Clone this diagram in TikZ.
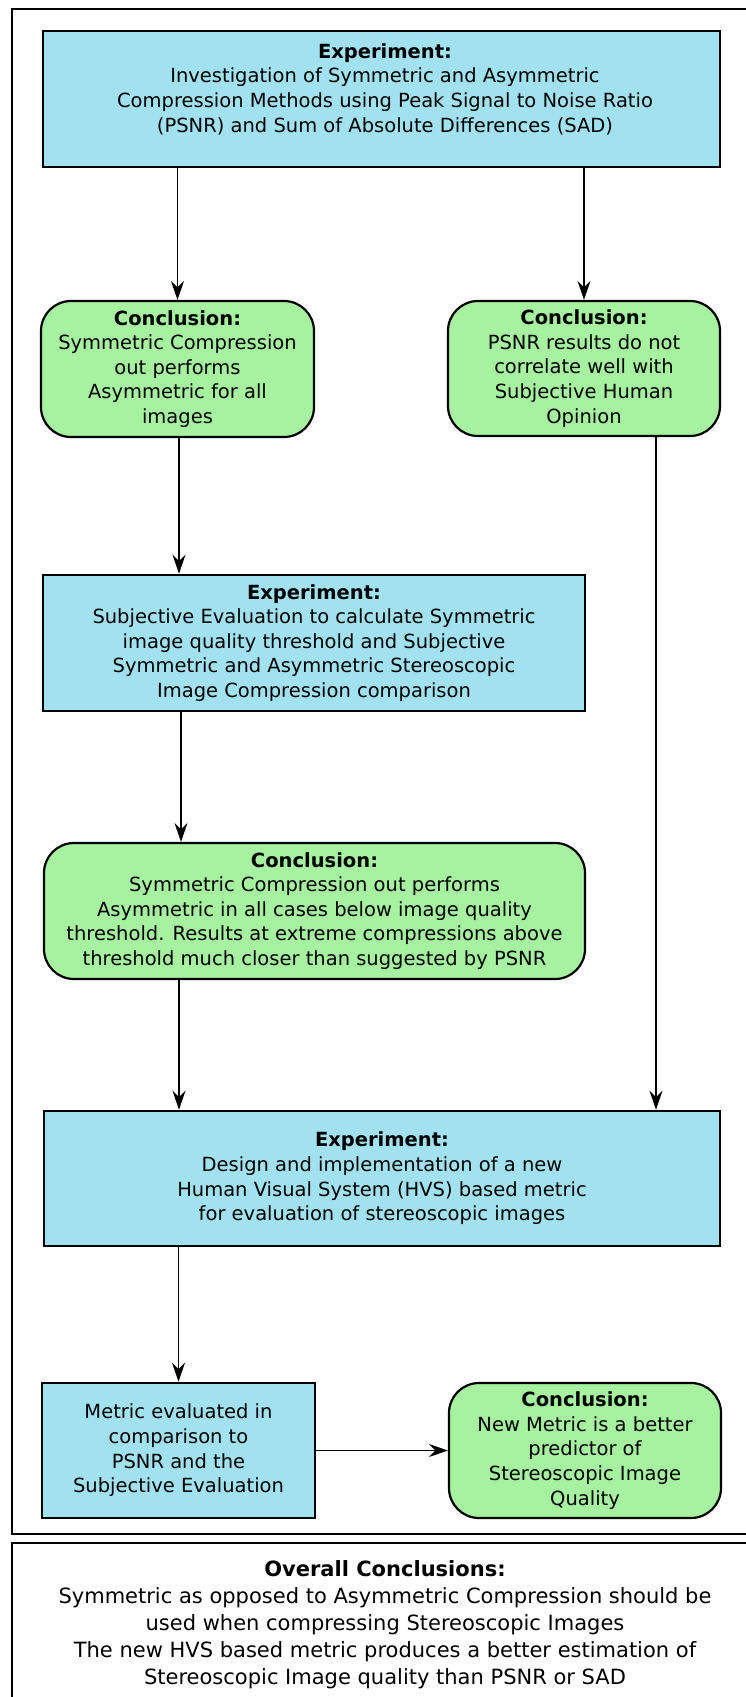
\documentclass[tikz,border=0pt]{standalone}
\usepackage{fontspec}
\setmainfont{DejaVu Sans}
\usetikzlibrary{arrows.meta}
\definecolor{boxblue}{RGB}{162,226,240}
\definecolor{boxgreen}{RGB}{166,242,160}
\tikzset{
  bluebox/.style={draw=black, fill=boxblue, line width=2.6pt, rectangle, inner sep=0pt, align=center,
    font=\fontsize{19.5}{24.6}\selectfont},
  greenbox/.style={draw=black, fill=boxgreen, line width=2.2pt, rectangle, rounded corners=30pt, inner sep=0pt, align=center,
    font=\fontsize{19.5}{24.6}\selectfont},
  frame/.style={draw=black, line width=1.8pt},
  txt/.style={inner sep=0pt, align=center, font=\fontsize{19.5}{24.6}\selectfont},
  bigtxt/.style={inner sep=0pt, align=center, font=\fontsize{21}{27}\selectfont},
  arr/.style={draw=black, line width=1.2pt, -{Stealth[length=19pt,width=13pt,inset=6.5pt]}}
}
\begin{document}
\begin{tikzpicture}[x=1pt,y=-1pt]
\useasboundingbox (0,0) rectangle (745,1697);
\fill[white] (0,0) rectangle (745,1697);
% frames
\draw[frame] (12,9) rectangle (755,1534);
\draw[frame] (12,1543) rectangle (755,1720);
% boxes
\node[bluebox, minimum width=677pt, minimum height=136pt] (b1) at (381.5,99) {};
\node[txt] (b1t) at (385,89) {\textbf{Experiment:}\\Investigation of Symmetric and Asymmetric\\Compression Methods using Peak Signal to Noise Ratio\\(PSNR) and Sum of Absolute Differences (SAD)};
\node[greenbox, minimum width=273pt, minimum height=136pt] (g1) at (177.5,369) {\textbf{Conclusion:}\\Symmetric Compression\\out performs\\Asymmetric for all\\images};
\node[greenbox, minimum width=272pt, minimum height=135pt] (g2) at (584,368.5) {\textbf{Conclusion:}\\PSNR results do not\\correlate well with\\Subjective Human\\Opinion};
\node[bluebox, minimum width=542pt, minimum height=136pt] (b3) at (314,643) {\textbf{Experiment:}\\Subjective Evaluation to calculate Symmetric\\image quality threshold and Subjective\\Symmetric and Asymmetric Stereoscopic\\Image Compression comparison};
\node[greenbox, minimum width=541pt, minimum height=136pt] (g3) at (314.5,911) {\textbf{Conclusion:}\\Symmetric Compression out performs\\Asymmetric in all cases below image quality\\threshold. Results at extreme compressions above\\threshold much closer than suggested by PSNR};
\node[bluebox, minimum width=676pt, minimum height=135pt] (b4) at (382,1178.5) {\textbf{Experiment:}\\Design and implementation of a new\\Human Visual System (HVS) based metric\\for evaluation of stereoscopic images};
\node[bluebox, minimum width=273pt, minimum height=135pt] (b5) at (178.5,1450.5) {Metric evaluated in\\comparison to\\PSNR and the\\Subjective Evaluation};
\node[greenbox, minimum width=272pt, minimum height=135pt] (g4) at (585,1450.5) {\textbf{Conclusion:}\\New Metric is a better\\predictor of\\Stereoscopic Image\\Quality};
\node[bigtxt] (oc) at (385,1625) {\textbf{Overall Conclusions:}\\Symmetric as opposed to Asymmetric Compression should be\\used when compressing Stereoscopic Images\\The new HVS based metric produces a better estimation of\\Stereoscopic Image quality than PSNR or SAD};
% arrows
\draw[arr] (g1.north |- b1.south) -- (g1.north);
\draw[arr] (g2.north |- b1.south) -- (g2.north);
\draw[arr] ([xshift=1.5pt]g1.south) -- ([xshift=1.5pt]g1.south |- b3.north);
\draw[arr] ([xshift=3.5pt]g1.south |- b3.south) -- ([xshift=3.5pt]g1.south |- g3.north);
\draw[arr] ([xshift=1.5pt]g1.south |- g3.south) -- ([xshift=1.5pt]g1.south |- b4.north);
\draw[arr] ([xshift=72pt]g2.south) -- ([xshift=72pt]g2.south |- b4.north);
\draw[arr] (b5.north |- b4.south) -- (b5.north);
\draw[arr] (b5.east) -- (g4.west);
\end{tikzpicture}
\end{document}
